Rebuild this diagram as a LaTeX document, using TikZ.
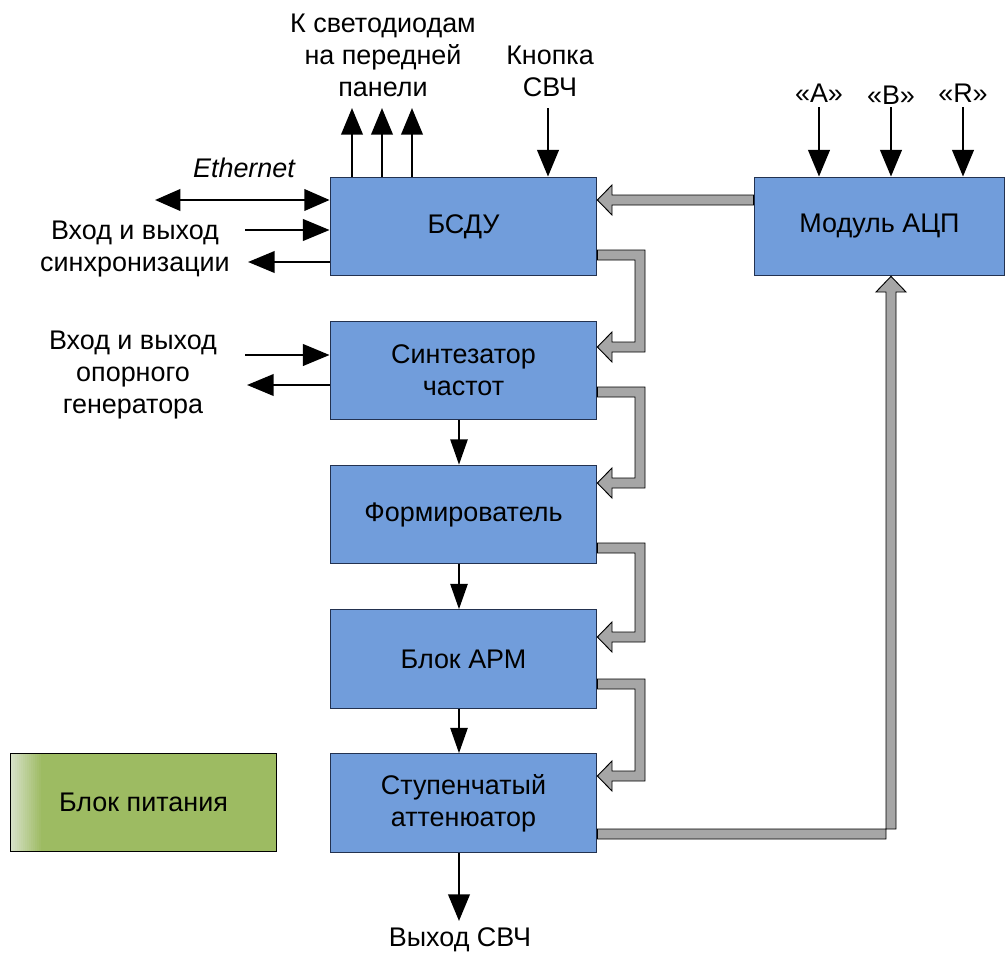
\documentclass[tikz,border=0pt]{standalone}
\usepackage{fontspec}
\setmainfont{Liberation Sans}
\usetikzlibrary{arrows.meta,calc}
\definecolor{boxblue}{RGB}{113,157,219}
\definecolor{boxedge}{RGB}{35,50,80}
\definecolor{pgreen}{RGB}{157,187,98}
\definecolor{pgreenl}{RGB}{214,224,198}
\definecolor{busgray}{RGB}{166,166,166}
\begin{document}
\begin{tikzpicture}[x=0.75pt,y=-0.75pt,
  every node/.style={font=\fontsize{20.2}{24}\selectfont},
  box/.style={draw=boxedge,line width=0.8pt,fill=boxblue,minimum width=200pt,minimum height=74pt,inner sep=0pt,align=center},
  lbl/.style={align=center,inner sep=0pt},
  bigarrow/.style={line width=2.2pt,-{Triangle[width=16pt,length=20pt]}},
  dblarrow/.style={line width=2.2pt,{Triangle[width=16pt,length=19pt]}-{Triangle[width=16pt,length=19pt]}},
  smallarrow/.style={line width=1.3pt,-{Triangle[width=13pt,length=19pt]}},
  bus/.style={draw=black,line width=0.7pt,fill=busgray,line join=miter}]
\useasboundingbox (0,0) rectangle (1008,953);

% blocks
\node[box] (bsdu) at (463.5,226.5) {БСДУ};
\node[box] (sint) at (463.5,370.5) {Синтезатор\\частот};
\node[box] (form) at (463.5,514.5) {Формирователь};
\node[box] (arm)  at (463.5,659) {Блок АРМ};
\node[box] (att)  at (463.5,803) {Ступенчатый\\аттенюатор};
\node[box,minimum width=188pt] (adc) at (879.5,226.5) {Модуль АЦП};
\node[fill=pgreen,minimum width=199pt,minimum height=74pt,inner sep=0pt] (psu) at (143.5,802.5) {};
\foreach \i in {0,...,14} {
  \pgfmathsetmacro\mix{100-\i*100/15}
  \fill[pgreenl!\mix!pgreen] ([xshift=\i*1.5pt]psu.north west) rectangle ([xshift=\i*1.5pt+1.6pt]psu.south west);
}
\node[draw=black,line width=0.8pt,minimum width=199pt,minimum height=74pt,inner sep=0pt] at (psu) {Блок питания};

% labels
\node[lbl] (leds) at (383,55) {К светодиодам\\на передней\\панели};
\node[lbl] (btn) at (550,71) {Кнопка\\СВЧ};
\node[lbl] (la) at (819,93) {«A»};
\node[lbl] (lb) at (891,95) {«B»};
\node[lbl] (lr) at (963,93) {«R»};
\node[lbl] (eth) at (244,168) {\itshape Ethernet};
\node[lbl] (sync) at (135,249) {Вход и выход\\синхронизации};
\node[lbl] (ref) at (133,375) {Вход и выход\\опорного\\генератора};
\node[lbl] (out) at (460,940) {Выход СВЧ};

% free ends
\coordinate (l1) at (352,108);
\coordinate (l2) at (382,108);
\coordinate (l3) at (412,108);
\coordinate (b0) at (548,108);
\coordinate (a0) at (819,107);
\coordinate (b1) at (891,107);
\coordinate (r0) at (963,107);
\coordinate (e0) at (155,200);
\coordinate (s0) at (245,230);
\coordinate (s1) at (248,262);
\coordinate (g0) at (245,355);
\coordinate (g1) at (247,385);
\coordinate (o0) at (459,921);

% black arrows
\draw[bigarrow] (bsdu.north -| l1) -- (l1);
\draw[bigarrow] (bsdu.north -| l2) -- (l2);
\draw[bigarrow] (bsdu.north -| l3) -- (l3);
\draw[bigarrow] (b0) -- (bsdu.north -| b0);
\draw[bigarrow] (a0) -- (adc.north -| a0);
\draw[bigarrow] (b1) -- (adc.north -| b1);
\draw[bigarrow] (r0) -- (adc.north -| r0);
\draw[dblarrow] (e0) -- (bsdu.west |- e0);
\draw[bigarrow] (s0) -- (bsdu.west |- s0);
\draw[bigarrow] (bsdu.west |- s1) -- (s1);
\draw[bigarrow] (g0) -- (sint.west |- g0);
\draw[bigarrow] (sint.west |- g1) -- (g1);
\draw[smallarrow] (sint.south -| 459,0) -- (form.north -| 459,0);
\draw[smallarrow] (form.south -| 459,0) -- (arm.north -| 459,0);
\draw[smallarrow] (arm.south -| 459,0) -- (att.north -| 459,0);
\draw[bigarrow] (att.south -| o0) -- (o0);

% gray bus arrows
\draw[bus] (adc.west |- 0,195) -- (612,195) -- (612,185) -- (bsdu.east |- 0,200)
  -- (612,215) -- (612,205) -- (adc.west |- 0,205) -- cycle;
\draw[bus] (bsdu.east |- 0,250) -- (645,250) -- (645,352) -- (612,352) -- (612,362)
  -- (sint.east |- 0,347) -- (612,332) -- (612,342) -- (635,342) -- (635,260) -- (bsdu.east |- 0,260) -- cycle;
\draw[bus] (sint.east |- 0,387) -- (645,387) -- (645,488) -- (612,488) -- (612,498)
  -- (form.east |- 0,483) -- (612,468) -- (612,478) -- (635,478) -- (635,397) -- (sint.east |- 0,397) -- cycle;
\draw[bus] (form.east |- 0,543) -- (645,543) -- (645,642) -- (612,642) -- (612,652)
  -- (arm.east |- 0,637) -- (612,622) -- (612,632) -- (635,632) -- (635,553) -- (form.east |- 0,553) -- cycle;
\draw[bus] (arm.east |- 0,679) -- (645,679) -- (645,781) -- (612,781) -- (612,791)
  -- (att.east |- 0,776) -- (612,761) -- (612,771) -- (635,771) -- (635,689) -- (arm.east |- 0,689) -- cycle;
\draw[bus] (att.east |- 0,829) -- (896,829) -- (896,292) -- (906,292)
  -- (adc.south -| 891,0) -- (876,292) -- (886,292) -- (886,839) -- (att.east |- 0,839) -- cycle;
\end{tikzpicture}
\end{document}
